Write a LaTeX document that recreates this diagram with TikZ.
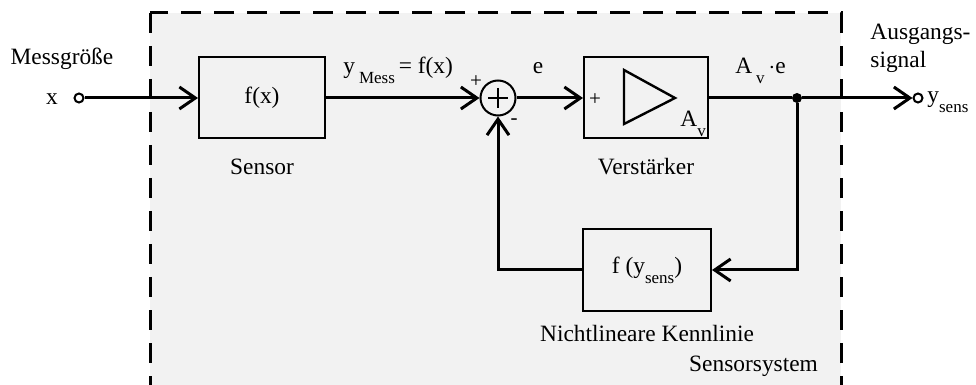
\documentclass[tikz,border=0pt]{standalone}
\usepackage{fontspec}
\setmainfont{Liberation Serif}
\usetikzlibrary{arrows.meta,positioning}
\newcommand{\lowidx}[1]{\raisebox{-5pt}{\fontsize{8.5}{10}\selectfont #1}}
\tikzset{
    every node/.style={font=\fontsize{11.7}{14}\selectfont},
    sysbox/.style={draw,line width=1.5pt,fill=black!5,dash pattern=on 10pt off 6.5pt},
    sigblock/.style={rectangle,draw,line width=1pt,minimum width=63pt,minimum height=40.5pt,inner sep=0pt},
    sumpoint/.style={circle,draw,line width=1pt,minimum size=17.5pt,inner sep=0pt},
    terminal/.style={circle,draw,line width=1pt,minimum size=4.5pt,inner sep=0pt,fill=white},
    junction/.style={circle,fill,minimum size=5pt,inner sep=0pt},
    sign/.style={font=\fontsize{10.5}{11}\selectfont,inner sep=0pt},
    sigline/.style={-{Straight Barb[length=8pt,width=11pt]},line width=1.5pt},
    plainline/.style={line width=1.5pt}
}

\begin{document}
\begin{tikzpicture}[x=0.5pt,y=-0.5pt]
    \useasboundingbox (0,0) rectangle (976,385);
    % Systemgrenze
    \draw[sysbox] (150,13) rectangle (841,420);
    \node[anchor=east] (sys) at (825,366) {Sensorsystem};

    % Bloecke
    \node[sigblock] (sensor) at (262,98) {f(x)};
    \node[sumpoint] (sum) at (498,98) {};
    \node[sigblock,minimum width=62pt] (amp) at (646,98) {};
    \node[sigblock,minimum width=64pt,minimum height=41pt] (fb) at (647,270) {f (y\lowidx{sens})};
    \draw[line width=1.2pt] (sum.center) ++(-10,0) -- ++(20,0);
    \draw[line width=1.2pt] (sum.center) ++(0,-10) -- ++(0,20);
    \draw[line width=1.2pt,shift={(amp.center)}] (-22,-28) -- (29,0) -- (-22,26) -- cycle;

    % Anschluesse
    \node[terminal] (xin) at (79,98) {};
    \node[terminal] (yout) at (918,98) {};
    \node[junction] (dot) at (797,98) {};

    % Beschriftungen
    \node (xlab) at (52,99) {x};
    \node (input) at (62,59) {Messgröße};
    \node (senslab) at (262,167) {Sensor};
    \node[anchor=base west,inner sep=0pt] (ymess) at (343,74) {y\,\lowidx{Mess}\,= f(x)};
    \node[sign] (plus1) at (476,82) {+};
    \node[sign] (minus1) at (514,122) {-};
    \node[anchor=base,inner sep=0pt] (elab) at (538,74) {e};
    \node[sign] (plus2) at (595,100) {+};
    \node[anchor=base west,inner sep=0pt] (avlab) at (680,127) {A\lowidx{v}};
    \node (amplab) at (646,167) {Verstärker};
    \node[anchor=base west,inner sep=0pt] (avelab) at (735,74) {A\,\lowidx{v}\,$\cdot$e};
    \node[anchor=base west,inner sep=0pt,align=left] (outlab) at (870,68) {Ausgangs-\\signal};
    \node[anchor=base west,inner sep=0pt] (ylab) at (927,103) {y\lowidx{sens}};
    \node (fblab) at (647,333) {Nichtlineare Kennlinie};

    % Signalfluss
    \draw[sigline] (xin) -- (sensor.west);
    \draw[sigline] (sensor.east) -- (sum.west);
    \draw[sigline] (sum.east) -- (amp.west);
    \draw[plainline] (amp.east) -- (dot);
    \draw[sigline] (dot) -- (yout.west);
    \draw[sigline] (dot) |- (fb.east);
    \draw[sigline] (fb.west) -| (sum.south);
\end{tikzpicture}
\end{document}
